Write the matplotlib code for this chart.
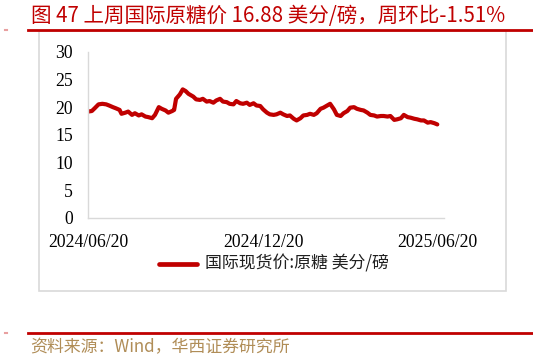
import matplotlib
matplotlib.use("Agg")
import matplotlib.pyplot as plt
import matplotlib.dates as mdates
from matplotlib.lines import Line2D
from matplotlib.patches import Rectangle
import pandas as pd

dates = [
    "2024-06-20", "2024-06-24", "2024-06-27", "2024-07-01", "2024-07-05", "2024-07-09",
    "2024-07-12", "2024-07-16", "2024-07-19", "2024-07-23", "2024-07-25", "2024-07-29",
    "2024-08-01", "2024-08-05", "2024-08-08", "2024-08-12", "2024-08-15", "2024-08-19",
    "2024-08-22", "2024-08-26", "2024-08-29", "2024-09-02", "2024-09-05", "2024-09-09",
    "2024-09-12", "2024-09-16", "2024-09-18", "2024-09-20", "2024-09-24", "2024-09-27",
    "2024-09-30", "2024-10-03", "2024-10-08", "2024-10-11", "2024-10-15", "2024-10-18",
    "2024-10-22", "2024-10-25", "2024-10-29", "2024-11-01", "2024-11-05", "2024-11-08",
    "2024-11-12", "2024-11-15", "2024-11-19", "2024-11-22", "2024-11-26", "2024-11-29",
    "2024-12-03", "2024-12-06", "2024-12-10", "2024-12-13", "2024-12-17", "2024-12-20",
    "2024-12-24", "2024-12-27", "2024-12-31", "2025-01-03", "2025-01-07", "2025-01-10",
    "2025-01-14", "2025-01-17", "2025-01-21", "2025-01-24", "2025-01-28", "2025-01-31",
    "2025-02-04", "2025-02-07", "2025-02-11", "2025-02-14", "2025-02-18", "2025-02-21",
    "2025-02-25", "2025-02-28", "2025-03-04", "2025-03-07", "2025-03-11", "2025-03-14",
    "2025-03-18", "2025-03-21", "2025-03-25", "2025-03-28", "2025-04-01", "2025-04-04",
    "2025-04-08", "2025-04-11", "2025-04-15", "2025-04-18", "2025-04-22", "2025-04-25",
    "2025-04-29", "2025-05-02", "2025-05-06", "2025-05-09", "2025-05-13", "2025-05-16",
    "2025-05-20", "2025-05-23", "2025-05-27", "2025-05-30", "2025-06-03", "2025-06-06",
    "2025-06-10", "2025-06-13", "2025-06-17", "2025-06-20",
]
sugar_price = [
    19.2, 19.3, 19.8, 20.5, 20.6, 20.5,
    20.3, 20.0, 19.8, 19.5, 18.8, 19.0,
    19.2, 18.6, 18.9, 18.5, 18.7, 18.3,
    18.2, 18.0, 18.6, 20.0, 19.7, 19.4,
    19.0, 19.3, 19.5, 21.5, 22.3, 23.2,
    22.9, 22.4, 21.9, 21.4, 21.3, 21.5,
    21.0, 21.1, 20.8, 21.2, 21.5, 21.0,
    20.9, 20.6, 20.5, 21.1, 20.7, 20.6,
    20.8, 20.4, 20.7, 20.3, 20.2, 19.6,
    19.0, 18.7, 18.6, 18.7, 19.0, 18.7,
    18.4, 18.5, 17.9, 17.6, 18.0, 18.5,
    18.6, 18.8, 18.6, 18.9, 19.7, 19.9,
    20.3, 20.6, 19.6, 18.6, 18.4, 18.9,
    19.3, 19.9, 20.0, 19.7, 19.5, 19.4,
    19.0, 18.6, 18.5, 18.3, 18.4, 18.4,
    18.3, 18.4, 17.7, 17.8, 18.0, 18.6,
    18.2, 18.1, 17.9, 17.8, 17.6, 17.6,
    17.2, 17.3, 17.1, 16.88,
]
x_ticks = ["2024-06-20", "2024-12-20", "2025-06-20"]
y_ticks = [0, 5, 10, 15, 20, 25, 30]

title_text = "图 47 上周国际原糖价 16.88 美分/磅，周环比-1.51%"
legend_label = "国际现货价:原糖 美分/磅"
source_text = "资料来源：Wind，华西证券研究所"

RED = "#C00000"
GRAY = "#D9D9D9"
GOLD = "#B08D57"
CJK = ["Noto Sans CJK SC", "DejaVu Sans"]
SERIF = ["Liberation Serif", "DejaVu Serif"]

W, H = 533, 360
fig = plt.figure(figsize=(W / 100, H / 100), dpi=100)

def fx(px):
    return px / W

def fy(py):
    return 1 - py / H

# title
fig.text(fx(31), fy(16), title_text, color=RED, fontsize=14.8, family=CJK,
         ha="left", va="center")
fig.add_artist(Line2D([fx(28), fx(533)], [fy(29.5), fy(29.5)], color=RED, lw=2.0))
fig.add_artist(Line2D([fx(5), fx(6.5)], [fy(30), fy(30)], color="#E8A0A0", lw=1.5))

# frame
fig.add_artist(Rectangle((fx(39), fy(291)), fx(506) - fx(39), fy(31) - fy(291),
                         fill=False, edgecolor=GRAY, lw=1.2))

# axes
ax = fig.add_axes([fx(88), fy(218), fx(444) - fx(88), fy(51.7) - fy(218)])
x = pd.to_datetime(dates)
ax.plot(x, sugar_price, color=RED, lw=3.0, solid_capstyle="round",
        solid_joinstyle="round", label=legend_label)
ax.set_xlim(pd.Timestamp("2024-06-20"), pd.Timestamp("2025-06-27"))
ax.set_ylim(0, 30)
ax.set_yticks(y_ticks)
ax.set_xticks(pd.to_datetime(x_ticks))
ax.xaxis.set_major_formatter(mdates.DateFormatter("%Y/%m/%d"))
for s in ["top", "right"]:
    ax.spines[s].set_visible(False)
for s in ["left", "bottom"]:
    ax.spines[s].set_color(GRAY)
    ax.spines[s].set_linewidth(1.0)
ax.tick_params(axis="both", length=0, labelsize=12.7)
ax.tick_params(axis="x", pad=11.5)
ax.tick_params(axis="y", pad=11)
for lab in ax.get_xticklabels() + ax.get_yticklabels():
    lab.set_family(SERIF)

# legend
fig.add_artist(Line2D([fx(159), fx(197)], [fy(263.5), fy(263.5)], color=RED, lw=3.4,
                      solid_capstyle="round"))
fig.text(fx(205), fy(263.5), legend_label, fontsize=12.2, family=CJK,
         ha="left", va="center", color="#202020")

# source
fig.add_artist(Line2D([fx(28), fx(533)], [fy(333), fy(333)], color=RED, lw=2.0))
fig.add_artist(Line2D([fx(5), fx(6.5)], [fy(333), fy(333)], color="#E8A0A0", lw=1.5))
fig.text(fx(30), fy(347), source_text, color=GOLD, fontsize=12.2, family=CJK,
         ha="left", va="center")

fig.savefig("out.png", dpi=100)
